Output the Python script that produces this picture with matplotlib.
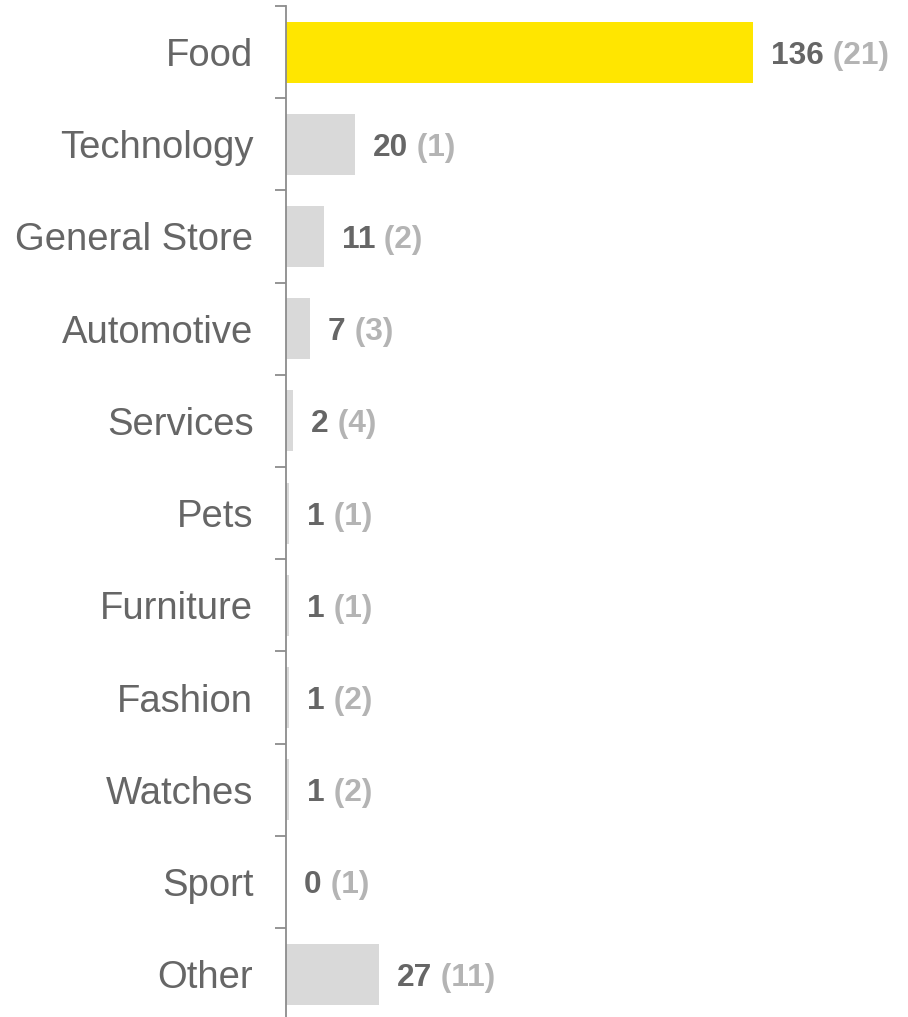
import matplotlib

matplotlib.use("Agg")
import matplotlib.pyplot as plt
import numpy as np

# Data
categories = [
    "Food",
    "Technology",
    "General Store",
    "Automotive",
    "Services",
    "Pets",
    "Furniture",
    "Fashion",
    "Watches",
    "Sport",
    "Other",
]
values = [136, 20, 11, 7, 2, 1, 1, 1, 1, 0, 27]
counts = [21, 1, 2, 3, 4, 1, 1, 2, 2, 1, 11]
highlight = "Food"

YELLOW = "#FFE600"
BAR_GRAY = "#D9D9D9"
DARK = "#666666"
LIGHT = "#B4B4B4"
AXIS = "#8C8C8C"

plt.rcParams["font.family"] = ["Liberation Sans", "DejaVu Sans"]

W, H = 908, 1017
fig = plt.figure(figsize=(W / 100, H / 100), dpi=100)
# axis line at x=286 px, rows start at y=6 px, each row ~92.2 px
left = 286 / W
row_h = 92.2
top_px = 6
ax_h = row_h * len(categories)
ax = fig.add_axes([left, 1 - (top_px + ax_h) / H, 1 - left, ax_h / H])

y = np.arange(len(categories))
colors = [YELLOW if c == highlight else BAR_GRAY for c in categories]
ax.barh(y, values, height=0.66, color=colors, edgecolor="none")

# x scale: 136 -> 753 px
ax.set_xlim(0, max(values) * (W - 286) / (753 - 286))
ax.set_ylim(len(categories) - 0.5, -0.5)

for s in ["top", "right", "bottom"]:
    ax.spines[s].set_visible(False)
ax.spines["left"].set_color(AXIS)
ax.spines["left"].set_linewidth(1.3)
ax.set_xticks([])

ax.set_yticks(y)
ax.set_yticklabels(categories, fontsize=27.5, color=DARK)
ax.tick_params(axis="y", which="major", length=0, pad=23.5)
ax.set_yticks(np.arange(len(categories) + 1) - 0.5, minor=True)
ax.tick_params(axis="y", which="minor", length=8, width=1.3, color=AXIS)

for yi, v, n in zip(y, values, counts):
    t = ax.annotate(
        f"{v}",
        xy=(v, yi),
        xytext=(13, 0),
        textcoords="offset points",
        va="center_baseline",
        ha="left",
        fontsize=22.8,
        fontweight="bold",
        color=DARK,
    )
    ax.annotate(
        f" ({n})",
        xy=(1, 0),
        xycoords=t,
        va="bottom",
        ha="left",
        fontsize=22.8,
        fontweight="bold",
        color=LIGHT,
    )

fig.savefig("out.png", dpi=100)
